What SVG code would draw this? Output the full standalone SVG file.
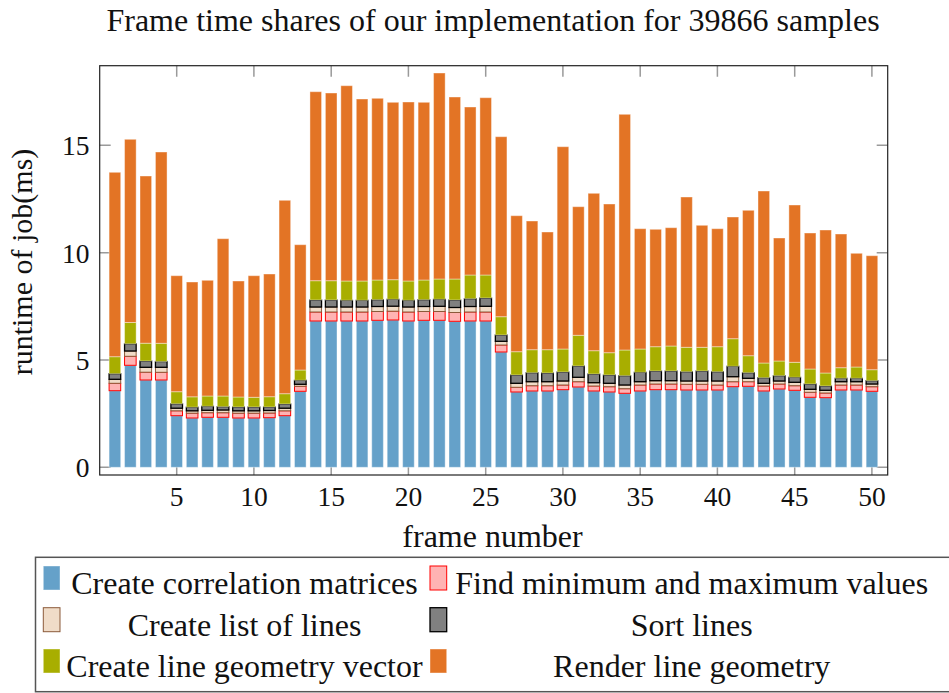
<svg xmlns="http://www.w3.org/2000/svg" width="949" height="693" viewBox="0 0 949 693">
<style>
text{font-family:"Liberation Serif","Times New Roman",serif;fill:#111}
.t{font-size:32px}
.k{font-size:27.5px}
.b{fill:#65A1C9;stroke:#fff;stroke-opacity:.4;stroke-width:1}
.p{fill:#FFB3B3;stroke:#FF0000;stroke-width:1}
.e{fill:#F0DCC8;stroke:#8B5A3A;stroke-width:1}
.g{fill:#808080;stroke:#000;stroke-width:1.3}
.o{fill:#A8AE00;stroke:#fff;stroke-opacity:.4;stroke-width:1}
.r{fill:#E37425;stroke:#fff;stroke-opacity:.4;stroke-width:1}
.tk{stroke:#9a9a9a;stroke-width:1.5}
</style>
<text class="t" x="493" y="30.7" text-anchor="middle">Frame time shares of our implementation for 39866 samples</text>
<g id="ticks">
<path class="tk" d="M99.7 467.3h11M99.7 360h11M99.7 252.7h11M99.7 145.3h11M887.7 467.3h-11M887.7 360h-11M887.7 252.7h-11M887.7 145.3h-11"/>
<path class="tk" d="M176.7 475v-11M253.9 475v-11M331.2 475v-11M408.4 475v-11M485.7 475v-11M562.9 475v-11M640.2 475v-11M717.4 475v-11M794.7 475v-11M871.9 475v-11M176.7 65.7v11M253.9 65.7v11M331.2 65.7v11M408.4 65.7v11M485.7 65.7v11M562.9 65.7v11M640.2 65.7v11M717.4 65.7v11M794.7 65.7v11M871.9 65.7v11"/>
</g>
<g id="bars">
<g id="bar1" transform="translate(109.1,0)"><rect class="b" width="11.6" y="390.7" height="76.6"/><rect class="p" width="11.6" y="383.3" height="7.4"/><rect class="e" width="11.6" y="379.3" height="4"/><rect class="g" width="11.6" y="373.7" height="5.6"/><rect class="o" width="11.6" y="356.7" height="17"/><rect class="r" width="11.6" y="172.3" height="184.4"/></g>
<g id="bar2" transform="translate(124.55,0)"><rect class="b" width="11.6" y="365.3" height="102"/><rect class="p" width="11.6" y="356.3" height="9"/><rect class="e" width="11.6" y="351" height="5.3"/><rect class="g" width="11.6" y="343.8" height="7.2"/><rect class="o" width="11.6" y="322.5" height="21.3"/><rect class="r" width="11.6" y="139.3" height="183.2"/></g>
<g id="bar3" transform="translate(140,0)"><rect class="b" width="11.6" y="380" height="87.3"/><rect class="p" width="11.6" y="372.2" height="7.8"/><rect class="e" width="11.6" y="367.3" height="4.9"/><rect class="g" width="11.6" y="361" height="6.3"/><rect class="o" width="11.6" y="343.2" height="17.8"/><rect class="r" width="11.6" y="176" height="167.2"/></g>
<g id="bar4" transform="translate(155.45,0)"><rect class="b" width="11.6" y="380" height="87.3"/><rect class="p" width="11.6" y="372.3" height="7.7"/><rect class="e" width="11.6" y="367.3" height="5"/><rect class="g" width="11.6" y="361.5" height="5.8"/><rect class="o" width="11.6" y="343.3" height="18.2"/><rect class="r" width="11.6" y="152" height="191.3"/></g>
<g id="bar5" transform="translate(170.9,0)"><rect class="b" width="11.6" y="415.7" height="51.6"/><rect class="p" width="11.6" y="410.8" height="4.9"/><rect class="e" width="11.6" y="408.2" height="2.6"/><rect class="g" width="11.6" y="403.8" height="4.4"/><rect class="o" width="11.6" y="391.7" height="12.1"/><rect class="r" width="11.6" y="275.7" height="116"/></g>
<g id="bar6" transform="translate(186.35,0)"><rect class="b" width="11.6" y="418" height="49.3"/><rect class="p" width="11.6" y="413.2" height="4.8"/><rect class="e" width="11.6" y="410.8" height="2.4"/><rect class="g" width="11.6" y="407.2" height="3.6"/><rect class="o" width="11.6" y="396.8" height="10.4"/><rect class="r" width="11.6" y="282" height="114.8"/></g>
<g id="bar7" transform="translate(201.8,0)"><rect class="b" width="11.6" y="417.3" height="50"/><rect class="p" width="11.6" y="412.7" height="4.6"/><rect class="e" width="11.6" y="410.3" height="2.4"/><rect class="g" width="11.6" y="406.3" height="4"/><rect class="o" width="11.6" y="396" height="10.3"/><rect class="r" width="11.6" y="280.3" height="115.7"/></g>
<g id="bar8" transform="translate(217.25,0)"><rect class="b" width="11.6" y="417.3" height="50"/><rect class="p" width="11.6" y="412.7" height="4.6"/><rect class="e" width="11.6" y="410" height="2.7"/><rect class="g" width="11.6" y="406.7" height="3.3"/><rect class="o" width="11.6" y="396" height="10.7"/><rect class="r" width="11.6" y="238.7" height="157.3"/></g>
<g id="bar9" transform="translate(232.7,0)"><rect class="b" width="11.6" y="418" height="49.3"/><rect class="p" width="11.6" y="413.2" height="4.8"/><rect class="e" width="11.6" y="410.8" height="2.4"/><rect class="g" width="11.6" y="407" height="3.8"/><rect class="o" width="11.6" y="397" height="10"/><rect class="r" width="11.6" y="281" height="116"/></g>
<g id="bar10" transform="translate(248.15,0)"><rect class="b" width="11.6" y="418" height="49.3"/><rect class="p" width="11.6" y="413.2" height="4.8"/><rect class="e" width="11.6" y="410.8" height="2.4"/><rect class="g" width="11.6" y="407" height="3.8"/><rect class="o" width="11.6" y="397.3" height="9.7"/><rect class="r" width="11.6" y="275.7" height="121.6"/></g>
<g id="bar11" transform="translate(263.6,0)"><rect class="b" width="11.6" y="417.7" height="49.6"/><rect class="p" width="11.6" y="413" height="4.7"/><rect class="e" width="11.6" y="410.5" height="2.5"/><rect class="g" width="11.6" y="407" height="3.5"/><rect class="o" width="11.6" y="396.7" height="10.3"/><rect class="r" width="11.6" y="274" height="122.7"/></g>
<g id="bar12" transform="translate(279.05,0)"><rect class="b" width="11.6" y="415.7" height="51.6"/><rect class="p" width="11.6" y="410.8" height="4.9"/><rect class="e" width="11.6" y="408.2" height="2.6"/><rect class="g" width="11.6" y="404" height="4.2"/><rect class="o" width="11.6" y="393.7" height="10.3"/><rect class="r" width="11.6" y="200.3" height="193.4"/></g>
<g id="bar13" transform="translate(294.5,0)"><rect class="b" width="11.6" y="391.3" height="76"/><rect class="p" width="11.6" y="386.3" height="5"/><rect class="e" width="11.6" y="384.3" height="2"/><rect class="g" width="11.6" y="380.3" height="4"/><rect class="o" width="11.6" y="370" height="10.3"/><rect class="r" width="11.6" y="244.7" height="125.3"/></g>
<g id="bar14" transform="translate(309.95,0)"><rect class="b" width="11.6" y="321" height="146.3"/><rect class="p" width="11.6" y="312" height="9"/><rect class="e" width="11.6" y="307" height="5"/><rect class="g" width="11.6" y="300" height="7"/><rect class="o" width="11.6" y="280.7" height="19.3"/><rect class="r" width="11.6" y="91.7" height="189"/></g>
<g id="bar15" transform="translate(325.4,0)"><rect class="b" width="11.6" y="321" height="146.3"/><rect class="p" width="11.6" y="312" height="9"/><rect class="e" width="11.6" y="307" height="5"/><rect class="g" width="11.6" y="300" height="7"/><rect class="o" width="11.6" y="280.7" height="19.3"/><rect class="r" width="11.6" y="93" height="187.7"/></g>
<g id="bar16" transform="translate(340.85,0)"><rect class="b" width="11.6" y="321" height="146.3"/><rect class="p" width="11.6" y="312" height="9"/><rect class="e" width="11.6" y="307" height="5"/><rect class="g" width="11.6" y="300.3" height="6.7"/><rect class="o" width="11.6" y="281" height="19.3"/><rect class="r" width="11.6" y="85.7" height="195.3"/></g>
<g id="bar17" transform="translate(356.3,0)"><rect class="b" width="11.6" y="321" height="146.3"/><rect class="p" width="11.6" y="312" height="9"/><rect class="e" width="11.6" y="307" height="5"/><rect class="g" width="11.6" y="300.3" height="6.7"/><rect class="o" width="11.6" y="281" height="19.3"/><rect class="r" width="11.6" y="99" height="182"/></g>
<g id="bar18" transform="translate(371.75,0)"><rect class="b" width="11.6" y="320.3" height="147"/><rect class="p" width="11.6" y="311.5" height="8.8"/><rect class="e" width="11.6" y="306.5" height="5"/><rect class="g" width="11.6" y="299.7" height="6.8"/><rect class="o" width="11.6" y="280" height="19.7"/><rect class="r" width="11.6" y="98.3" height="181.7"/></g>
<g id="bar19" transform="translate(387.2,0)"><rect class="b" width="11.6" y="320" height="147.3"/><rect class="p" width="11.6" y="311.2" height="8.8"/><rect class="e" width="11.6" y="306.2" height="5"/><rect class="g" width="11.6" y="299.3" height="6.9"/><rect class="o" width="11.6" y="279.7" height="19.6"/><rect class="r" width="11.6" y="102.3" height="177.4"/></g>
<g id="bar20" transform="translate(402.65,0)"><rect class="b" width="11.6" y="321" height="146.3"/><rect class="p" width="11.6" y="312" height="9"/><rect class="e" width="11.6" y="307" height="5"/><rect class="g" width="11.6" y="300.3" height="6.7"/><rect class="o" width="11.6" y="281" height="19.3"/><rect class="r" width="11.6" y="102" height="179"/></g>
<g id="bar21" transform="translate(418.1,0)"><rect class="b" width="11.6" y="320.3" height="147"/><rect class="p" width="11.6" y="311.5" height="8.8"/><rect class="e" width="11.6" y="306.5" height="5"/><rect class="g" width="11.6" y="299.7" height="6.8"/><rect class="o" width="11.6" y="280" height="19.7"/><rect class="r" width="11.6" y="102.3" height="177.7"/></g>
<g id="bar22" transform="translate(433.55,0)"><rect class="b" width="11.6" y="320.3" height="147"/><rect class="p" width="11.6" y="311.5" height="8.8"/><rect class="e" width="11.6" y="306.3" height="5.2"/><rect class="g" width="11.6" y="299.3" height="7"/><rect class="o" width="11.6" y="279" height="20.3"/><rect class="r" width="11.6" y="73" height="206"/></g>
<g id="bar23" transform="translate(449,0)"><rect class="b" width="11.6" y="321.3" height="146"/><rect class="p" width="11.6" y="312.5" height="8.8"/><rect class="e" width="11.6" y="307.5" height="5"/><rect class="g" width="11.6" y="300" height="7.5"/><rect class="o" width="11.6" y="279" height="21"/><rect class="r" width="11.6" y="97" height="182"/></g>
<g id="bar24" transform="translate(464.45,0)"><rect class="b" width="11.6" y="321" height="146.3"/><rect class="p" width="11.6" y="312" height="9"/><rect class="e" width="11.6" y="306.5" height="5.5"/><rect class="g" width="11.6" y="298.7" height="7.8"/><rect class="o" width="11.6" y="275" height="23.7"/><rect class="r" width="11.6" y="107" height="168"/></g>
<g id="bar25" transform="translate(479.9,0)"><rect class="b" width="11.6" y="321" height="146.3"/><rect class="p" width="11.6" y="312" height="9"/><rect class="e" width="11.6" y="306.3" height="5.7"/><rect class="g" width="11.6" y="298" height="8.3"/><rect class="o" width="11.6" y="275" height="23"/><rect class="r" width="11.6" y="97.7" height="177.3"/></g>
<g id="bar26" transform="translate(495.35,0)"><rect class="b" width="11.6" y="352" height="115.3"/><rect class="p" width="11.6" y="345" height="7"/><rect class="e" width="11.6" y="341.3" height="3.7"/><rect class="g" width="11.6" y="335" height="6.3"/><rect class="o" width="11.6" y="316.7" height="18.3"/><rect class="r" width="11.6" y="136.7" height="180"/></g>
<g id="bar27" transform="translate(510.8,0)"><rect class="b" width="11.6" y="392" height="75.3"/><rect class="p" width="11.6" y="387.3" height="4.7"/><rect class="e" width="11.6" y="383.3" height="4"/><rect class="g" width="11.6" y="375" height="8.3"/><rect class="o" width="11.6" y="351.7" height="23.3"/><rect class="r" width="11.6" y="215.7" height="136"/></g>
<g id="bar28" transform="translate(526.25,0)"><rect class="b" width="11.6" y="391" height="76.3"/><rect class="p" width="11.6" y="385.7" height="5.3"/><rect class="e" width="11.6" y="381.7" height="4"/><rect class="g" width="11.6" y="372.7" height="9"/><rect class="o" width="11.6" y="349.7" height="23"/><rect class="r" width="11.6" y="221" height="128.7"/></g>
<g id="bar29" transform="translate(541.7,0)"><rect class="b" width="11.6" y="391" height="76.3"/><rect class="p" width="11.6" y="385.7" height="5.3"/><rect class="e" width="11.6" y="381.7" height="4"/><rect class="g" width="11.6" y="373" height="8.7"/><rect class="o" width="11.6" y="349.7" height="23.3"/><rect class="r" width="11.6" y="232" height="117.7"/></g>
<g id="bar30" transform="translate(557.15,0)"><rect class="b" width="11.6" y="389.7" height="77.6"/><rect class="p" width="11.6" y="385" height="4.7"/><rect class="e" width="11.6" y="381" height="4"/><rect class="g" width="11.6" y="372" height="9"/><rect class="o" width="11.6" y="349" height="23"/><rect class="r" width="11.6" y="146.7" height="202.3"/></g>
<g id="bar31" transform="translate(572.6,0)"><rect class="b" width="11.6" y="387" height="80.3"/><rect class="p" width="11.6" y="381.7" height="5.3"/><rect class="e" width="11.6" y="377.3" height="4.4"/><rect class="g" width="11.6" y="366" height="11.3"/><rect class="o" width="11.6" y="335.3" height="30.7"/><rect class="r" width="11.6" y="206.7" height="128.6"/></g>
<g id="bar32" transform="translate(588.05,0)"><rect class="b" width="11.6" y="391" height="76.3"/><rect class="p" width="11.6" y="386" height="5"/><rect class="e" width="11.6" y="382.7" height="3.3"/><rect class="g" width="11.6" y="374" height="8.7"/><rect class="o" width="11.6" y="350.7" height="23.3"/><rect class="r" width="11.6" y="193.3" height="157.4"/></g>
<g id="bar33" transform="translate(603.5,0)"><rect class="b" width="11.6" y="392" height="75.3"/><rect class="p" width="11.6" y="386.7" height="5.3"/><rect class="e" width="11.6" y="383.3" height="3.4"/><rect class="g" width="11.6" y="375" height="8.3"/><rect class="o" width="11.6" y="352.7" height="22.3"/><rect class="r" width="11.6" y="204" height="148.7"/></g>
<g id="bar34" transform="translate(618.95,0)"><rect class="b" width="11.6" y="393.3" height="74"/><rect class="p" width="11.6" y="388.7" height="4.6"/><rect class="e" width="11.6" y="385" height="3.7"/><rect class="g" width="11.6" y="375.7" height="9.3"/><rect class="o" width="11.6" y="350" height="25.7"/><rect class="r" width="11.6" y="114.3" height="235.7"/></g>
<g id="bar35" transform="translate(634.4,0)"><rect class="b" width="11.6" y="391" height="76.3"/><rect class="p" width="11.6" y="385" height="6"/><rect class="e" width="11.6" y="381.7" height="3.3"/><rect class="g" width="11.6" y="372.3" height="9.4"/><rect class="o" width="11.6" y="349" height="23.3"/><rect class="r" width="11.6" y="228.7" height="120.3"/></g>
<g id="bar36" transform="translate(649.85,0)"><rect class="b" width="11.6" y="389.7" height="77.6"/><rect class="p" width="11.6" y="384" height="5.7"/><rect class="e" width="11.6" y="380.7" height="3.3"/><rect class="g" width="11.6" y="371" height="9.7"/><rect class="o" width="11.6" y="346.7" height="24.3"/><rect class="r" width="11.6" y="229.3" height="117.4"/></g>
<g id="bar37" transform="translate(665.3,0)"><rect class="b" width="11.6" y="389.7" height="77.6"/><rect class="p" width="11.6" y="384" height="5.7"/><rect class="e" width="11.6" y="380.7" height="3.3"/><rect class="g" width="11.6" y="371" height="9.7"/><rect class="o" width="11.6" y="346" height="25"/><rect class="r" width="11.6" y="227.7" height="118.3"/></g>
<g id="bar38" transform="translate(680.75,0)"><rect class="b" width="11.6" y="390" height="77.3"/><rect class="p" width="11.6" y="384.3" height="5.7"/><rect class="e" width="11.6" y="381" height="3.3"/><rect class="g" width="11.6" y="371.7" height="9.3"/><rect class="o" width="11.6" y="347.3" height="24.4"/><rect class="r" width="11.6" y="197" height="150.3"/></g>
<g id="bar39" transform="translate(696.2,0)"><rect class="b" width="11.6" y="390" height="77.3"/><rect class="p" width="11.6" y="384.3" height="5.7"/><rect class="e" width="11.6" y="381" height="3.3"/><rect class="g" width="11.6" y="371" height="10"/><rect class="o" width="11.6" y="347.3" height="23.7"/><rect class="r" width="11.6" y="225.3" height="122"/></g>
<g id="bar40" transform="translate(711.65,0)"><rect class="b" width="11.6" y="390" height="77.3"/><rect class="p" width="11.6" y="385" height="5"/><rect class="e" width="11.6" y="381" height="4"/><rect class="g" width="11.6" y="371.7" height="9.3"/><rect class="o" width="11.6" y="346.7" height="25"/><rect class="r" width="11.6" y="228.7" height="118"/></g>
<g id="bar41" transform="translate(727.1,0)"><rect class="b" width="11.6" y="386.7" height="80.6"/><rect class="p" width="11.6" y="381.7" height="5"/><rect class="e" width="11.6" y="376.7" height="5"/><rect class="g" width="11.6" y="366.3" height="10.4"/><rect class="o" width="11.6" y="338.7" height="27.6"/><rect class="r" width="11.6" y="217" height="121.7"/></g>
<g id="bar42" transform="translate(742.55,0)"><rect class="b" width="11.6" y="386.3" height="81"/><rect class="p" width="11.6" y="381.7" height="4.6"/><rect class="e" width="11.6" y="378.3" height="3.4"/><rect class="g" width="11.6" y="372.7" height="5.6"/><rect class="o" width="11.6" y="355.7" height="17"/><rect class="r" width="11.6" y="210.3" height="145.4"/></g>
<g id="bar43" transform="translate(758,0)"><rect class="b" width="11.6" y="391" height="76.3"/><rect class="p" width="11.6" y="386" height="5"/><rect class="e" width="11.6" y="383.3" height="2.7"/><rect class="g" width="11.6" y="377.7" height="5.6"/><rect class="o" width="11.6" y="363" height="14.7"/><rect class="r" width="11.6" y="191" height="172"/></g>
<g id="bar44" transform="translate(773.45,0)"><rect class="b" width="11.6" y="389" height="78.3"/><rect class="p" width="11.6" y="384" height="5"/><rect class="e" width="11.6" y="381" height="3"/><rect class="g" width="11.6" y="375.7" height="5.3"/><rect class="o" width="11.6" y="361" height="14.7"/><rect class="r" width="11.6" y="238" height="123"/></g>
<g id="bar45" transform="translate(788.9,0)"><rect class="b" width="11.6" y="390.3" height="77"/><rect class="p" width="11.6" y="385.7" height="4.6"/><rect class="e" width="11.6" y="382.3" height="3.4"/><rect class="g" width="11.6" y="377.3" height="5"/><rect class="o" width="11.6" y="362.3" height="15"/><rect class="r" width="11.6" y="205" height="157.3"/></g>
<g id="bar46" transform="translate(804.35,0)"><rect class="b" width="11.6" y="397.3" height="70"/><rect class="p" width="11.6" y="392.3" height="5"/><rect class="e" width="11.6" y="389.3" height="3"/><rect class="g" width="11.6" y="384" height="5.3"/><rect class="o" width="11.6" y="369" height="15"/><rect class="r" width="11.6" y="233" height="136"/></g>
<g id="bar47" transform="translate(819.8,0)"><rect class="b" width="11.6" y="397.7" height="69.6"/><rect class="p" width="11.6" y="393" height="4.7"/><rect class="e" width="11.6" y="390.3" height="2.7"/><rect class="g" width="11.6" y="386" height="4.3"/><rect class="o" width="11.6" y="373" height="13"/><rect class="r" width="11.6" y="230" height="143"/></g>
<g id="bar48" transform="translate(835.25,0)"><rect class="b" width="11.6" y="390" height="77.3"/><rect class="p" width="11.6" y="385" height="5"/><rect class="e" width="11.6" y="381.7" height="3.3"/><rect class="g" width="11.6" y="378.3" height="3.4"/><rect class="o" width="11.6" y="367.7" height="10.6"/><rect class="r" width="11.6" y="234" height="133.7"/></g>
<g id="bar49" transform="translate(850.7,0)"><rect class="b" width="11.6" y="390" height="77.3"/><rect class="p" width="11.6" y="385" height="5"/><rect class="e" width="11.6" y="381.7" height="3.3"/><rect class="g" width="11.6" y="378.3" height="3.4"/><rect class="o" width="11.6" y="367" height="11.3"/><rect class="r" width="11.6" y="253.3" height="113.7"/></g>
<g id="bar50" transform="translate(866.15,0)"><rect class="b" width="11.6" y="391.3" height="76"/><rect class="p" width="11.6" y="386.7" height="4.6"/><rect class="e" width="11.6" y="384" height="2.7"/><rect class="g" width="11.6" y="380.7" height="3.3"/><rect class="o" width="11.6" y="369.7" height="11"/><rect class="r" width="11.6" y="255.7" height="114"/></g>
</g>
<rect id="axes" x="99.7" y="65.7" width="788" height="409.3" fill="none" stroke="#222" stroke-width="1.2"/>
<g id="ytick-labels" class="k" text-anchor="end">
<text class="k" x="89.5" y="477.3">0</text>
<text class="k" x="89.5" y="370">5</text>
<text class="k" x="89.5" y="262.7">10</text>
<text class="k" x="89.5" y="155.3">15</text>
</g>
<g id="xtick-labels" text-anchor="middle">
<text class="k" x="176.7" y="506">5</text>
<text class="k" x="253.9" y="506">10</text>
<text class="k" x="331.2" y="506">15</text>
<text class="k" x="408.4" y="506">20</text>
<text class="k" x="485.7" y="506">25</text>
<text class="k" x="562.9" y="506">30</text>
<text class="k" x="640.2" y="506">35</text>
<text class="k" x="717.4" y="506">40</text>
<text class="k" x="794.7" y="506">45</text>
<text class="k" x="871.9" y="506">50</text>
</g>
<text class="t" x="492.5" y="547" text-anchor="middle">frame number</text>
<text class="t" transform="translate(32,262) rotate(-90)" text-anchor="middle" style="font-size:30px">runtime of job(ms)</text>
<g id="legend">
<rect x="35.5" y="557.3" width="1000" height="134.4" fill="#fff" stroke="#555" stroke-width="1.5"/>
<rect class="b" x="43.3" y="566" width="16.7" height="24"/>
<text class="t" x="244.5" y="594" text-anchor="middle">Create correlation matrices</text>
<rect class="p" x="430" y="566" width="16.7" height="24"/>
<text class="t" x="691.7" y="594" text-anchor="middle">Find minimum and maximum values</text>
<rect class="e" x="43.3" y="607.7" width="16.7" height="24"/>
<text class="t" x="244.5" y="636" text-anchor="middle">Create list of lines</text>
<rect class="g" x="430" y="607.7" width="16.7" height="24"/>
<text class="t" x="691.7" y="636" text-anchor="middle">Sort lines</text>
<rect class="o" x="43.3" y="649" width="16.7" height="24"/>
<text class="t" x="244.5" y="677" text-anchor="middle">Create line geometry vector</text>
<rect class="r" x="430" y="649" width="16.7" height="24"/>
<text class="t" x="691.7" y="677" text-anchor="middle">Render line geometry</text>
</g>
</svg>
